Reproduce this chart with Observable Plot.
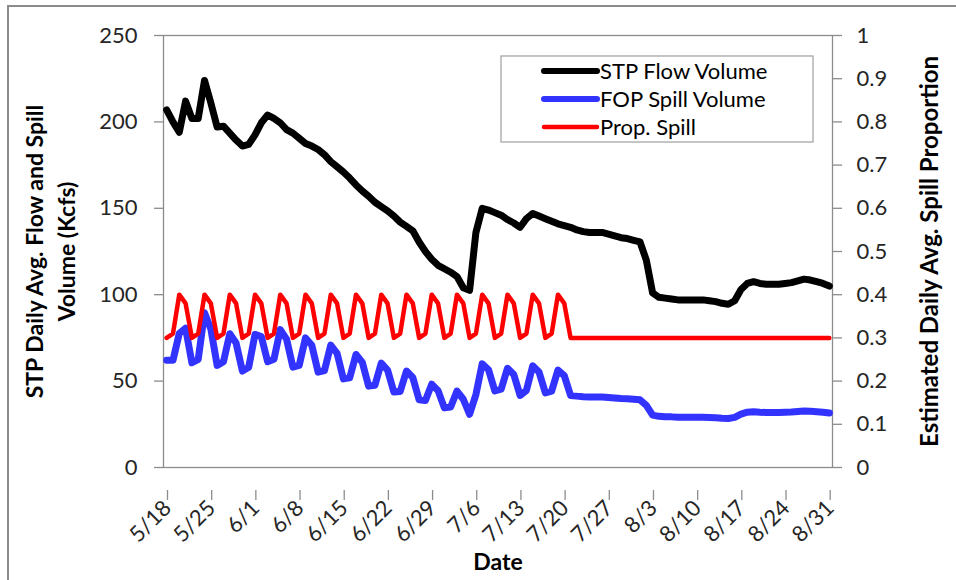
<!DOCTYPE html>
<html>
<head>
<meta charset="utf-8">
<script src="https://cdn.jsdelivr.net/npm/d3@7"></script>
<script src="https://cdn.jsdelivr.net/npm/@observablehq/plot@0.6"></script>
<style>
  html, body { margin: 0; padding: 0; background: #fff; }
  #chart { width: 956px; height: 580px; }
  #chart svg { display: block; }
</style>
</head>
<body>
<div id="chart"></div>
<script>
// Daily series, one value per day starting 5/18 (2013 season)
const startYear = 2013, startMonth = 5, startDay = 18;

// STP daily average flow volume (Kcfs)
const stpFlow = [
  207, 200, 194, 212, 202, 202, 224, 211, 197, 197.5,
  193.5, 189.5, 186, 187, 192.5, 199.5, 204, 202, 199.5, 195.5,
  193.5, 190.5, 187.5, 186, 184, 181, 177, 174, 171, 167.5,
  163.5, 160, 157, 153.5, 151, 148.5, 145.5, 142, 139.5, 137,
  130.5, 125, 120.5, 117, 115, 113, 110.5, 104, 102.5, 136,
  150, 149, 147.5, 146, 143.5, 141.5, 139, 144, 147, 145.5,
  144, 142.5, 141, 140, 139, 137.5, 136.5, 136, 136, 136,
  135, 134, 133, 132.5, 131.5, 130.5, 120, 101, 98.5, 98,
  97.5, 97, 97, 97, 97, 97, 96.5, 96, 95, 94.5,
  96.5, 103, 106.5, 107.5, 106.5, 106, 106, 106, 106.5, 107,
  108, 109, 108.5, 107.5, 106.5, 105
];

// FOP daily average spill volume (Kcfs)
const fopSpill = [
  62.1, 62.0, 77.6, 80.6, 60.6, 62.6, 89.6, 80.2, 59.1, 61.2,
  77.4, 72.0, 55.8, 58.0, 77.0, 75.8, 61.2, 62.6, 79.8, 74.3,
  58.1, 59.1, 75.0, 70.7, 55.2, 56.1, 70.8, 66.1, 51.3, 51.9,
  65.4, 60.8, 47.1, 47.6, 60.4, 56.4, 43.7, 44.0, 55.8, 52.1,
  39.2, 38.8, 48.2, 44.5, 34.5, 35.0, 44.2, 39.5, 30.8, 42.2,
  60.0, 56.6, 44.3, 45.3, 57.4, 53.8, 41.7, 44.6, 58.8, 55.3,
  43.2, 44.2, 56.4, 53.2, 41.7, 41.3, 41.0, 40.8, 40.8, 40.8,
  40.5, 40.2, 39.9, 39.8, 39.5, 39.2, 36.0, 30.3, 29.6, 29.4,
  29.3, 29.1, 29.1, 29.1, 29.1, 29.1, 29.0, 28.8, 28.5, 28.4,
  29.0, 30.9, 32.0, 32.3, 32.0, 31.8, 31.8, 31.8, 32.0, 32.1,
  32.4, 32.7, 32.6, 32.3, 32.0, 31.5
];

// Estimated daily average spill proportion (right axis, 0–1)
const propSpill = [
  0.30, 0.31, 0.40, 0.38, 0.30, 0.31, 0.40, 0.38, 0.30, 0.31,
  0.40, 0.38, 0.30, 0.31, 0.40, 0.38, 0.30, 0.31, 0.40, 0.38,
  0.30, 0.31, 0.40, 0.38, 0.30, 0.31, 0.40, 0.38, 0.30, 0.31,
  0.40, 0.38, 0.30, 0.31, 0.40, 0.38, 0.30, 0.31, 0.40, 0.38,
  0.30, 0.31, 0.40, 0.38, 0.30, 0.31, 0.40, 0.38, 0.30, 0.31,
  0.40, 0.38, 0.30, 0.31, 0.40, 0.38, 0.30, 0.31, 0.40, 0.38,
  0.30, 0.31, 0.40, 0.38, 0.30, 0.30, 0.30, 0.30, 0.30, 0.30,
  0.30, 0.30, 0.30, 0.30, 0.30, 0.30, 0.30, 0.30, 0.30, 0.30,
  0.30, 0.30, 0.30, 0.30, 0.30, 0.30, 0.30, 0.30, 0.30, 0.30,
  0.30, 0.30, 0.30, 0.30, 0.30, 0.30, 0.30, 0.30, 0.30, 0.30,
  0.30, 0.30, 0.30, 0.30, 0.30, 0.30
];

// Axis tick labels
const dateTicks = ["5/18", "5/25", "6/1", "6/8", "6/15", "6/22", "6/29", "7/6",
                   "7/13", "7/20", "7/27", "8/3", "8/10", "8/17", "8/24", "8/31"];
const leftTicks = [0, 50, 100, 150, 200, 250];
const rightTicks = [0, 0.1, 0.2, 0.3, 0.4, 0.5, 0.6, 0.7, 0.8, 0.9, 1];

// Series names and colours
const seriesNames = ["STP Flow Volume", "FOP Spill Volume", "Prop. Spill"];
const seriesColors = ["#000000", "#3333ff", "#ff0000"];
const seriesWidths = [7, 7, 4.5];
const legendWidths = [6, 6, 4.5];

// The left scale runs 0–250 Kcfs; the right-hand proportion maps onto it
const yMax = 250;
const propMax = 1;
const toLeft = p => p * yMax / propMax;

// Each day is drawn at the middle of its day-wide slot
const dayMid = d => new Date(Date.UTC(startYear, startMonth - 1, startDay + d, 12));
const parseTick = s => { const [m, dd] = s.split("/").map(Number); return new Date(Date.UTC(startYear, m - 1, dd)); };
const tickDates = dateTicks.map(parseTick);
const labelByTime = new Map(tickDates.map((t, i) => [+t, dateTicks[i]]));

const rows = stpFlow.map((v, i) => ({
  date: dayMid(i), flow: v, spill: fopSpill[i], prop: propSpill[i]
}));

const xDomain = [
  new Date(Date.UTC(startYear, startMonth - 1, startDay)),
  new Date(Date.UTC(startYear, startMonth - 1, startDay + stpFlow.length))
];

const axisGray = "#8c8c8c";
const textColor = "#262626";
const font = "Lato, 'Open Sans', sans-serif";

const chart = Plot.plot({
  width: 956,
  height: 580,
  marginLeft: 163,
  marginRight: 124,
  marginTop: 35,
  marginBottom: 113,
  style: { fontFamily: font, fontSize: "22px", color: textColor, background: "#fff" },
  x: { type: "utc", domain: xDomain },
  y: { domain: [0, yMax] },
  marks: [
    Plot.frame({ stroke: axisGray, strokeWidth: 1.3 }),
    Plot.axisY({ ticks: leftTicks, tickSize: 9, tickPadding: 17, stroke: axisGray, fill: textColor, strokeWidth: 1.3, label: null }),
    Plot.axisY({ anchor: "right", ticks: rightTicks.map(toLeft), tickFormat: d => d3.format("~g")(d / yMax * propMax),
                 tickSize: 9, tickPadding: 15, stroke: axisGray, fill: textColor, strokeWidth: 1.3, textAnchor: "start", label: null }),
    Plot.axisX({ ticks: tickDates, tickFormat: d => labelByTime.get(+d), tickSize: 10, tickPadding: 4,
                 tickRotate: -45, dx: 4, dy: 23, stroke: axisGray, fill: textColor, strokeWidth: 1.3, label: null }),
    Plot.line(rows, { x: "date", y: "flow", stroke: seriesColors[0], strokeWidth: seriesWidths[0], strokeLinejoin: "round", strokeLinecap: "round" }),
    Plot.line(rows, { x: "date", y: "spill", stroke: seriesColors[1], strokeWidth: seriesWidths[1], strokeLinejoin: "round", strokeLinecap: "round" }),
    Plot.line(rows, { x: "date", y: d => toLeft(d.prop), stroke: seriesColors[2], strokeWidth: seriesWidths[2], strokeLinejoin: "round", strokeLinecap: "round" }),
    Plot.text(["STP Daily Avg. Flow and Spill\nVolume (Kcfs)"], { text: d => d, frameAnchor: "left", dx: -115, rotate: -90,
                 textAnchor: "middle", lineAnchor: "middle", fontWeight: "bold", fontSize: 23, lineHeight: 1.4, fill: "#000" }),
    Plot.text(["Estimated Daily Avg. Spill Proportion"], { text: d => d, frameAnchor: "right", dx: 98, rotate: -90,
                 textAnchor: "middle", lineAnchor: "middle", fontWeight: "bold", fontSize: 24, fill: "#000" }),
    Plot.text(["Date"], { text: d => d, frameAnchor: "bottom", dy: 95, textAnchor: "middle", lineAnchor: "middle",
                 fontWeight: "bold", fontSize: 23, fill: "#000" })
  ]
});

document.getElementById("chart").appendChild(chart);

// Chart-area border and legend box
const svg = d3.select(chart);
svg.append("rect")
  .attr("x", 8).attr("y", 6).attr("width", 1000).attr("height", 700)
  .attr("fill", "none").attr("stroke", axisGray).attr("stroke-width", 2);

const legend = svg.append("g").attr("font-family", font).attr("font-size", 22).attr("text-anchor", "start");
legend.append("rect")
  .attr("x", 501).attr("y", 56).attr("width", 312).attr("height", 86)
  .attr("fill", "#fff").attr("stroke", "#a6a6a6").attr("stroke-width", 1.3);
seriesNames.forEach((name, i) => {
  const y = 71 + i * 28;
  legend.append("line")
    .attr("x1", 544).attr("x2", 597).attr("y1", y).attr("y2", y)
    .attr("stroke", seriesColors[i]).attr("stroke-width", legendWidths[i]).attr("stroke-linecap", "round");
  legend.append("text")
    .attr("x", 600).attr("y", y).attr("dy", "0.35em")
    .attr("fill", "#000").text(name);
});
</script>
</body>
</html>
